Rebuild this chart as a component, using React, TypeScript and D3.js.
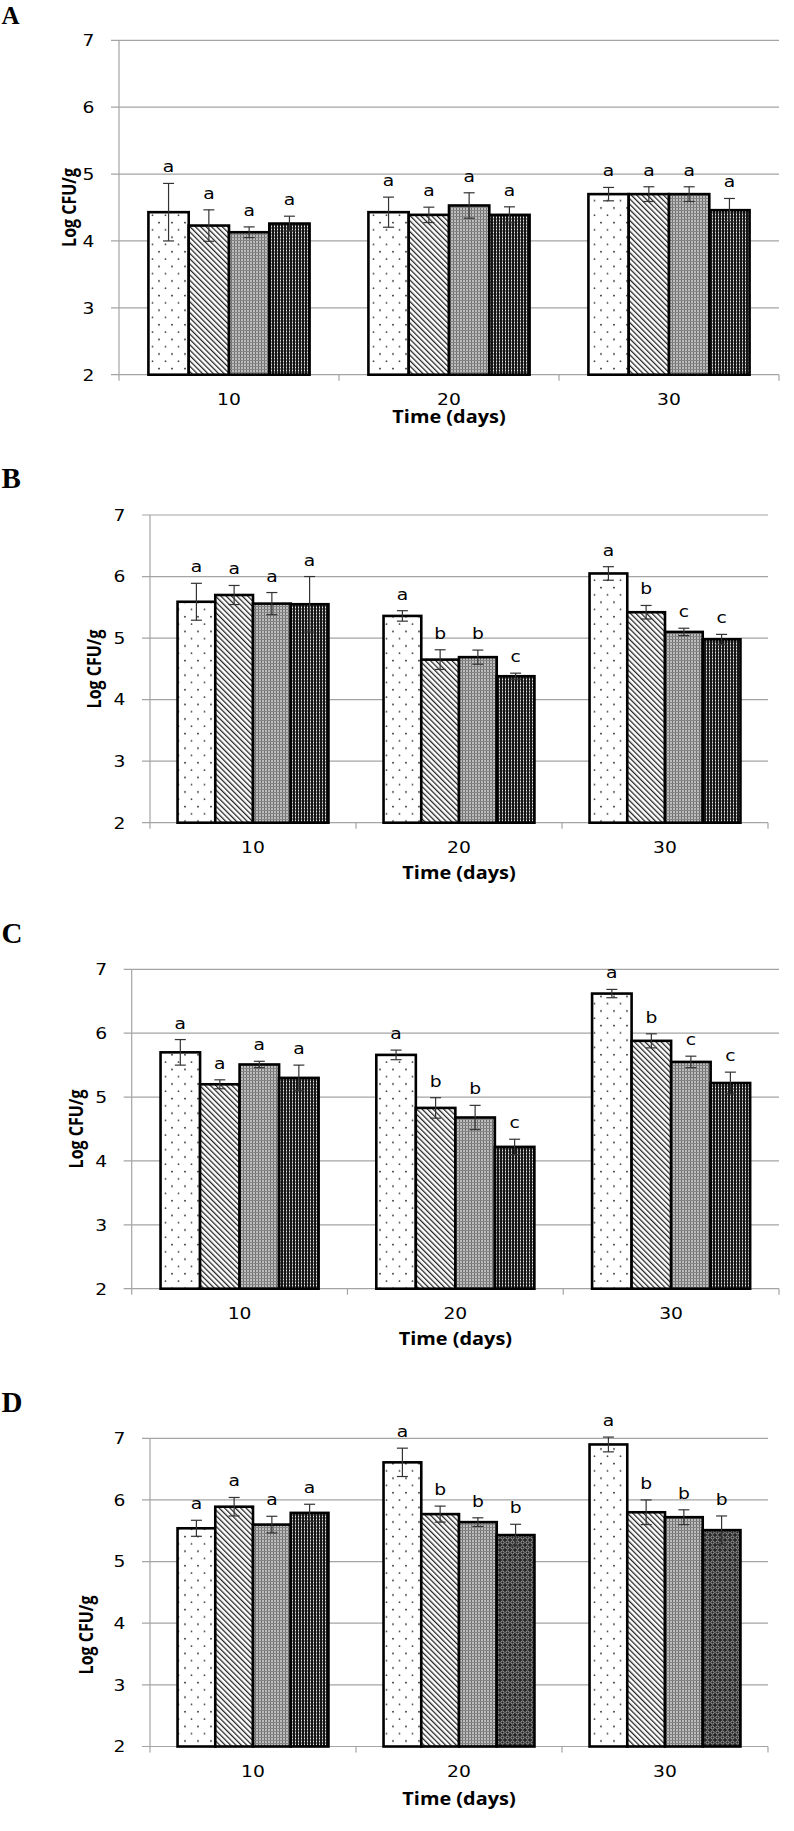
import * as d3 from 'd3';

// Categories and series
const days = ['10', '20', '30'];
const treatments = ['T1', 'T2', 'T3', 'T4'];
const yTicks = [2, 3, 4, 5, 6, 7];

// Panel A
const meansA = [[4.43, 4.23, 4.13, 4.26], [4.43, 4.39, 4.53, 4.39], [4.70, 4.70, 4.70, 4.46]];
const errsA = [[0.43, 0.235, 0.08, 0.11], [0.225, 0.115, 0.19, 0.12], [0.10, 0.11, 0.11, 0.175]];
const lettersA = [['a', 'a', 'a', 'a'], ['a', 'a', 'a', 'a'], ['a', 'a', 'a', 'a']];

// Panel B
const meansB = [[5.59, 5.70, 5.56, 5.55], [5.36, 4.65, 4.69, 4.38], [6.05, 5.42, 5.10, 4.98]];
const errsB = [[0.30, 0.155, 0.18, 0.45], [0.085, 0.16, 0.115, 0.05], [0.11, 0.11, 0.06, 0.08]];
const lettersB = [['a', 'a', 'a', 'a'], ['a', 'b', 'b', 'c'], ['a', 'b', 'c', 'c']];

// Panel C
const meansC = [[5.70, 5.20, 5.51, 5.30], [5.66, 4.83, 4.68, 4.22], [6.62, 5.88, 5.55, 5.22]];
const errsC = [[0.20, 0.07, 0.05, 0.20], [0.075, 0.16, 0.19, 0.12], [0.065, 0.11, 0.09, 0.17]];
const lettersC = [['a', 'a', 'a', 'a'], ['a', 'b', 'b', 'c'], ['a', 'b', 'c', 'c']];

// Panel D
const meansD = [[5.54, 5.89, 5.60, 5.79], [6.61, 5.77, 5.64, 5.43], [6.90, 5.80, 5.72, 5.51]];
const errsD = [[0.13, 0.15, 0.135, 0.14], [0.23, 0.13, 0.07, 0.175], [0.12, 0.20, 0.12, 0.23]];
const lettersD = [['a', 'a', 'a', 'a'], ['a', 'b', 'b', 'b'], ['a', 'b', 'b', 'b']];

// text in the source image is stretched sideways
const SX = 1.17;
const GRID = '#a4a4a4';
const NUM_FONT = '"DejaVu Sans", Verdana, sans-serif';
const TITLE_FONT = '"Open Sans", Calibri, sans-serif';

const fills = ['url(#pDots)', 'url(#pDiag)', 'url(#pGray)', 'url(#pDark)'];

type Panel = {
    name: string,
    means: number[][],
    errs: number[][],
    letters: string[][],
    left: number, right: number, top: number, bottom: number,
    nameY: number,
    nameSize: number,
    yTitleX: number,
    yTitleY: number,
    xTitleDy: number,
    altLast?: boolean
};

const panels: Panel[] = [
    { name: 'A', means: meansA, errs: errsA, letters: lettersA, left: 119, right: 779, top: 40.3, bottom: 374.7, nameY: 23.5, nameSize: 25, yTitleX: 75.5, yTitleY: 207.5, xTitleDy: 48.5 },
    { name: 'B', means: meansB, errs: errsB, letters: lettersB, left: 150, right: 768, top: 515, bottom: 822.7, nameY: 488, nameSize: 29, yTitleX: 101, yTitleY: 669, xTitleDy: 56 },
    { name: 'C', means: meansC, errs: errsC, letters: lettersC, left: 131.7, right: 779, top: 969.3, bottom: 1288.7, nameY: 942.5, nameSize: 29, yTitleX: 83, yTitleY: 1129, xTitleDy: 56.5 },
    { name: 'D', means: meansD, errs: errsD, letters: lettersD, left: 150, right: 768, top: 1438.3, bottom: 1746.5, nameY: 1411.5, nameSize: 29, yTitleX: 92.5, yTitleY: 1635, xTitleDy: 58.5, altLast: true },
];

function Patterns() {
    return (
        <defs>
            <pattern id="pDots" patternUnits="userSpaceOnUse" width={13} height={14.6}>
                <rect width={13} height={14.6} fill="#fff" />
                <circle cx={3} cy={3.6} r={0.9} fill="#222" />
                <circle cx={9.5} cy={10.9} r={0.9} fill="#444" />
            </pattern>
            <pattern id="pDiag" patternUnits="userSpaceOnUse" width={3.8} height={10} patternTransform="rotate(-45)">
                <rect width={3.8} height={10} fill="#fff" />
                <rect width={1.25} height={10} fill="#222" />
            </pattern>
            <pattern id="pGray" patternUnits="userSpaceOnUse" width={3} height={3}>
                <rect width={3} height={3} fill="#bdbdbd" />
                <rect width={1} height={3} fill="#6e6e6e" />
                <rect width={3} height={1} fill="#858585" />
            </pattern>
            <pattern id="pDark" patternUnits="userSpaceOnUse" width={3} height={3}>
                <rect width={3} height={3} fill="#151515" />
                <rect x={1} width={1} height={3} fill="#7a7a7a" />
                <rect x={1} y={1} width={1} height={1} fill="#e6e6e6" />
            </pattern>
            <pattern id="pRings" patternUnits="userSpaceOnUse" width={5} height={5}>
                <rect width={5} height={5} fill="#262626" />
                <circle cx={2.5} cy={2.5} r={1.6} fill="none" stroke="#b0b0b0" strokeWidth={0.9} />
            </pattern>
        </defs>
    );
}

function BarPanel({ p }: { p: Panel }) {
    const x0 = d3.scaleBand().domain(days).range([p.left, p.right]).paddingInner(0).paddingOuter(0);
    const x1 = d3.scaleBand().domain(treatments).range([0, x0.bandwidth()]).paddingInner(0).paddingOuter(0.73);
    const y = d3.scaleLinear().domain([2, 7]).range([p.bottom, p.top]);
    const bw = x1.bandwidth();
    const midX = (p.left + p.right) / 2;

    return (
        <g>
            {/* panel letter */}
            <text x={1.5} y={p.nameY} fontFamily='"Liberation Serif", "Times New Roman", serif' fontWeight="bold" fontSize={p.nameSize}>{p.name}</text>

            {/* gridlines + y ticks */}
            {yTicks.map(t => (
                <line key={t} x1={p.left - 8} x2={p.right} y1={y(t)} y2={y(t)} stroke={GRID} strokeWidth={1.2} />
            ))}
            <line x1={p.left} x2={p.left} y1={p.top} y2={p.bottom + 6} stroke={GRID} strokeWidth={1.2} />
            {days.map(d => (
                <line key={d} x1={x0(d)! + x0.bandwidth()} x2={x0(d)! + x0.bandwidth()} y1={p.bottom} y2={p.bottom + 6} stroke={GRID} strokeWidth={1.2} />
            ))}

            {/* bars */}
            {days.map((d, gi) => treatments.map((s, si) => {
                let fill = fills[si];
                if (p.altLast && si === 3 && gi > 0) fill = 'url(#pRings)';
                return (
                    <rect key={d + s} x={x0(d)! + x1(s)!} y={y(p.means[gi][si])} width={bw}
                        height={y(2) - y(p.means[gi][si])} fill={fill} stroke="#000" strokeWidth={2.6} />
                );
            }))}

            {/* error bars + letters */}
            {days.map((d, gi) => treatments.map((s, si) => {
                const cx = x0(d)! + x1(s)! + bw / 2;
                const m = p.means[gi][si], e = p.errs[gi][si];
                const yt = y(m + e), yb = y(m - e);
                return (
                    <g key={'e' + d + s}>
                        <line x1={cx} x2={cx} y1={yt} y2={yb} stroke="#333" strokeWidth={1.2} />
                        <line x1={cx - 5.5} x2={cx + 5.5} y1={yt} y2={yt} stroke="#333" strokeWidth={1.2} />
                        <line x1={cx - 5.5} x2={cx + 5.5} y1={yb} y2={yb} stroke="#333" strokeWidth={1.2} />
                        <text transform={`translate(${cx},${yt - 11}) scale(${SX},1)`} textAnchor="middle"
                            fontFamily={NUM_FONT} fontSize={16}>{p.letters[gi][si]}</text>
                    </g>
                );
            }))}

            {/* y tick labels */}
            {yTicks.map(t => (
                <text key={'l' + t} transform={`translate(${p.left - 24.5},${y(t) + 5.8}) scale(${SX},1)`}
                    textAnchor="end" fontFamily={NUM_FONT} fontSize={16}>{t}</text>
            ))}

            {/* x tick labels */}
            {days.map(d => (
                <text key={'x' + d} transform={`translate(${x0(d)! + x0.bandwidth() / 2},${p.bottom + 30}) scale(${SX},1)`}
                    textAnchor="middle" fontFamily={NUM_FONT} fontSize={16}>{d}</text>
            ))}

            {/* axis titles */}
            <text transform={`translate(${midX},${p.bottom + p.xTitleDy}) scale(${SX},1)`} textAnchor="middle"
                fontFamily={TITLE_FONT} fontWeight="bold" fontSize={17}>Time (days)</text>
            <text transform={`translate(${p.yTitleX},${p.yTitleY}) scale(${SX},1) rotate(-90)`} textAnchor="middle"
                fontFamily={TITLE_FONT} fontWeight="bold" fontSize={16}>Log CFU/g</text>
        </g>
    );
}

export default function App() {
    return (
        <svg width={794} height={1831} viewBox="0 0 794 1831"
            style={{ position: 'absolute', left: 0, top: 0, background: '#fff' }}>
            <Patterns />
            <rect width={794} height={1831} fill="#fff" />
            {panels.map(p => <BarPanel key={p.name} p={p} />)}
        </svg>
    );
}
